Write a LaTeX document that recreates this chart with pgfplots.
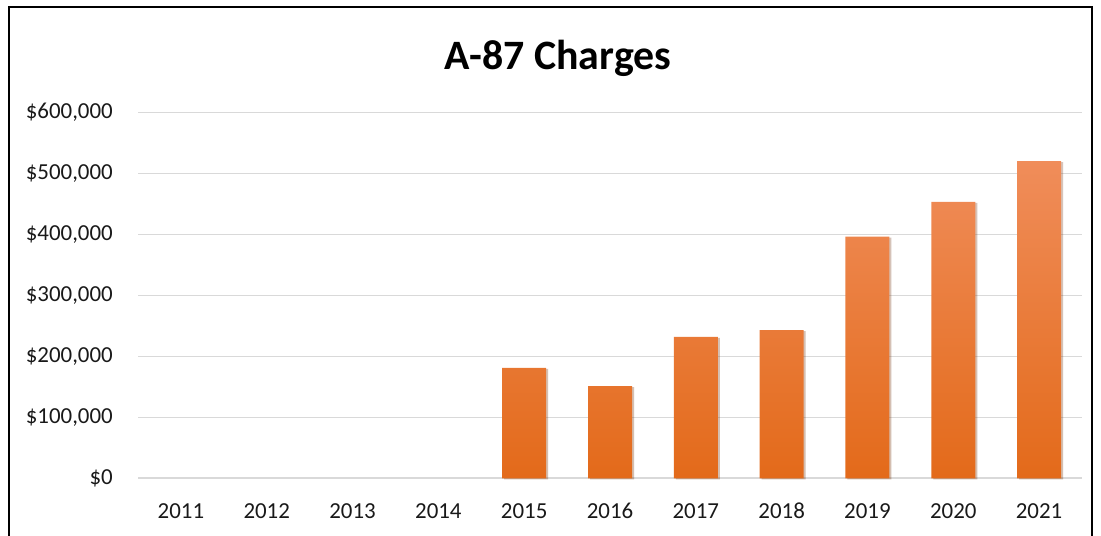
\documentclass[border=0pt]{standalone}
\usepackage{fontspec}
\setmainfont{Carlito}
\usepackage{pgfplots}
\usetikzlibrary{shadows}
\pgfplotsset{compat=1.18}
\definecolor{gridc}{HTML}{D9D9D9}
\definecolor{btop}{HTML}{F08D5A}
\definecolor{bmid}{HTML}{F47F2C}
\definecolor{bbot}{HTML}{E36A1A}
\begin{document}
\begin{tikzpicture}
\path[use as bounding box] (0,0) rectangle (1101bp,536bp);
\draw[line width=2bp] (9bp,0) -- (9bp,529bp) -- (1092bp,529bp) -- (1092bp,0);
\node[font=\fontsize{42}{50}\selectfont\bfseries] at (558bp,478bp) {A-87 Charges};
\begin{axis}[
  at={(138bp,57.7bp)}, anchor=south west,
  scale only axis, width=944bp, height=366bp,
  xmin=-0.5, xmax=10.5, ymin=0, ymax=600000,
  axis line style={draw=none}, major tick length=0pt,
  ymajorgrids, grid style={gridc, line width=1.6bp},
  xtick={0,1,2,3,4,5,6,7,8,9,10},
  xticklabels={2011,2012,2013,2014,2015,2016,2017,2018,2019,2020,2021},
  ytick={0,100000,200000,300000,400000,500000,600000},
  yticklabels={{\$0},{\$100,000},{\$200,000},{\$300,000},{\$400,000},{\$500,000},{\$600,000}},
  ticklabel style={font=\fontsize{23}{28}\selectfont, text=black!90},
  yticklabel style={anchor=east, inner sep=0pt, xshift=-25bp},
  xticklabel style={anchor=base, inner sep=0pt, yshift=-40bp},
  scaled y ticks=false,
  ybar, bar width=44bp,
  clip=false,
]
\addplot[draw=none, top color=btop, middle color=bmid, bottom color=bbot,
  drop shadow={shadow xshift=2bp, shadow yshift=-1bp, opacity=0.18, fill=black}]
  coordinates {(4,181000) (5,151000) (6,232000) (7,243000) (8,396000) (9,453000) (10,520000)};
\end{axis}
\end{tikzpicture}
\end{document}
